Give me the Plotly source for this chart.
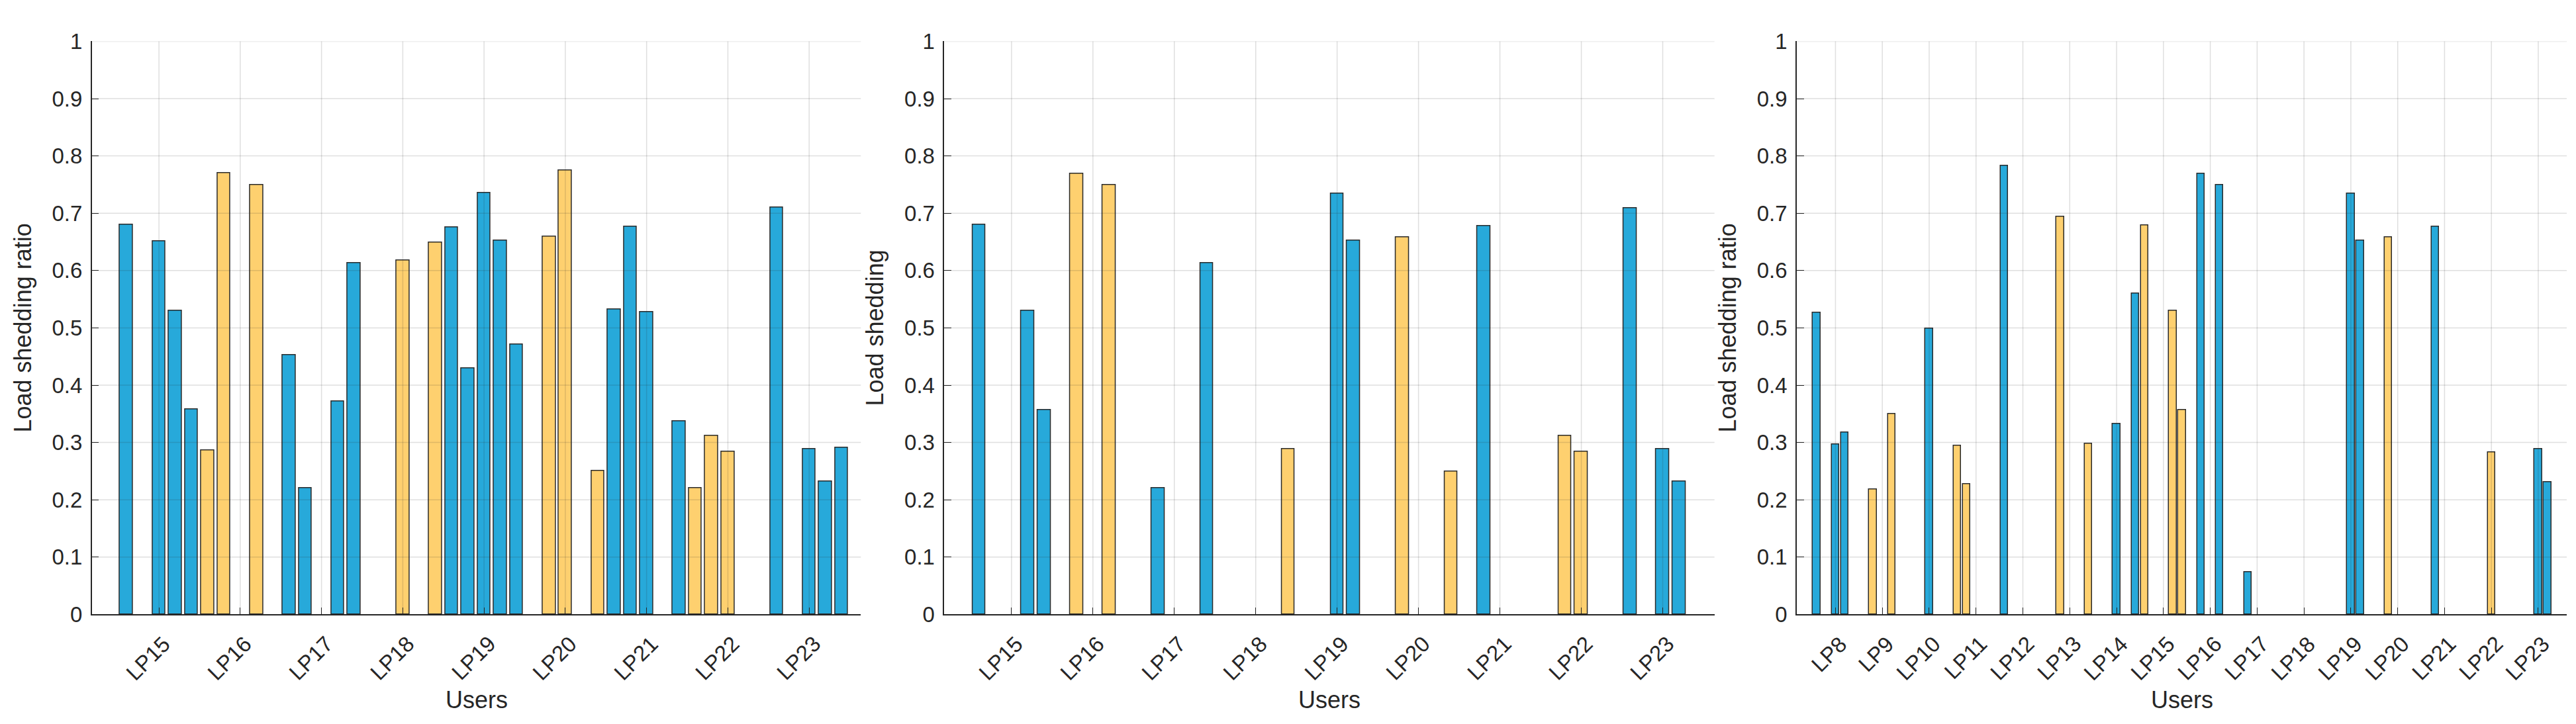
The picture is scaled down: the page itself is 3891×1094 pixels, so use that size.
import plotly.graph_objects as go

# ---------------- data ----------------
# Each user (LP) has five bar slots; 0 means no bar in that slot.
# Colour codes per bar: "b" = blue, "y" = yellow.
users_a = ["LP15", "LP16", "LP17", "LP18", "LP19", "LP20", "LP21", "LP22", "LP23"]

p1_values = [
    [0.680, 0, 0.651, 0.530, 0.358],
    [0.286, 0.770, 0, 0.750, 0],
    [0.453, 0.221, 0, 0.372, 0.613],
    [0, 0, 0.618, 0, 0.649],
    [0.676, 0.429, 0.735, 0.653, 0.471],
    [0, 0.659, 0.775, 0, 0.250],
    [0.532, 0.677, 0.528, 0, 0.337],
    [0.221, 0.312, 0.284, 0, 0],
    [0.710, 0, 0.289, 0.232, 0.291],
]
p1_kinds = [["b"] * 5, ["y"] * 5, ["b"] * 5, ["y"] * 5, ["b"] * 5,
            ["y"] * 5, ["b"] * 5, ["y"] * 5, ["b"] * 5]

p2_values = [
    [0.680, 0, 0, 0.530, 0.357],
    [0, 0.769, 0, 0.750, 0],
    [0, 0.220, 0, 0, 0.613],
    [0, 0, 0, 0, 0.289],
    [0, 0, 0.734, 0.652, 0],
    [0, 0.658, 0, 0, 0.249],
    [0, 0.678, 0, 0, 0],
    [0, 0.312, 0.284, 0, 0],
    [0.709, 0, 0.289, 0.232, 0],
]
p2_kinds = p1_kinds

users_c = ["LP8", "LP9", "LP10", "LP11", "LP12", "LP13", "LP14", "LP15",
           "LP16", "LP17", "LP18", "LP19", "LP20", "LP21", "LP22", "LP23"]

p3_values = [
    [0.526, 0, 0.297, 0.318, 0],
    [0, 0.218, 0, 0.350, 0],
    [0, 0, 0.499, 0, 0],
    [0.294, 0.227, 0, 0, 0],
    [0.783, 0, 0, 0, 0],
    [0, 0.694, 0, 0, 0.298],
    [0, 0, 0.332, 0, 0.560],
    [0.679, 0, 0, 0.530, 0.357],
    [0, 0.769, 0, 0.750, 0],
    [0, 0.074, 0, 0, 0],
    [0, 0, 0, 0, 0],
    [0, 0, 0.734, 0.652, 0],
    [0, 0.658, 0, 0, 0],
    [0, 0.677, 0, 0, 0],
    [0, 0, 0.283, 0, 0],
    [0, 0, 0.289, 0.231, 0],
]
p3_kinds = [
    ["b"] * 5, ["y"] * 5, ["b"] * 5, ["y"] * 5,
    ["b"] * 5, ["y"] * 5, ["b"] * 5, ["y"] * 5,
    ["b"] * 5, ["b"] * 5, ["b"] * 5, ["b"] * 5,
    ["y"] * 5, ["b"] * 5, ["y"] * 5, ["b"] * 5,
]

y_ticks = [0, 0.1, 0.2, 0.3, 0.4, 0.5, 0.6, 0.7, 0.8, 0.9, 1]
y_titles = ["Load shedding ratio", "Load shedding", "Load shedding ratio"]
x_title = "Users"

# ---------------- style ----------------
COLORS = {"b": "#27A9DA", "y": "#FED06F"}
EDGE = "#2a2a2a"
TXT = "#262626"
GRID = "rgba(38,38,38,0.15)"
FONT = "Liberation Sans, Arial, sans-serif"
SLOTS = 5

W, H = 3891, 1094
x_domains = [(130.7 / W, 1292.3 / W), (1418.3 / W, 2581.7 / W), (2706 / W, 3869 / W)]
y_domain = ((H - 934) / H, (H - 37.7) / H)

panels = [
    (users_a, p1_values, p1_kinds),
    (users_a, p2_values, p2_kinds),
    (users_c, p3_values, p3_kinds),
]

fig = go.Figure()
shapes = []
annotations = []
for k, (users, vals, kinds) in enumerate(panels):
    xs, ys, cs = [], [], []
    for gi, (gv, gk) in enumerate(zip(vals, kinds)):
        for j, (v, c) in enumerate(zip(gv, gk)):
            if v == 0:
                continue  # empty slot: nothing drawn
            xs.append(gi * SLOTS + j - SLOTS // 2)
            ys.append(v)
            cs.append(COLORS[c])
    sfx = "" if k == 0 else str(k + 1)
    fig.add_trace(go.Bar(
        x=xs, y=ys, width=0.8,
        marker=dict(color=cs, line=dict(color=EDGE, width=1.5)),
        xaxis="x" + sfx, yaxis="y" + sfx, showlegend=False,
    ))
    tickvals = [gi * SLOTS for gi in range(len(users))]
    n = len(users) * SLOTS
    xr = [-SLOTS // 2 - 1.13, n - SLOTS // 2 - 1 + (1.18 if k < 2 else 1.04)]
    axis_common = dict(
        showline=True, linecolor=TXT, linewidth=1.5,
        ticks="inside", ticklen=11, tickwidth=1.3, tickcolor=TXT,
        tickfont=dict(family=FONT, size=33, color=TXT),
        showgrid=False, zeroline=False, layer="above traces",
        title_font=dict(family=FONT, size=36, color=TXT),
    )
    fig.update_layout(**{
        "xaxis" + sfx: dict(
            domain=x_domains[k], anchor="y" + sfx, range=xr,
            tickmode="array", tickvals=tickvals, ticktext=users,
            showticklabels=False,
            **axis_common,
        ),
        "yaxis" + sfx: dict(
            domain=y_domain, anchor="x" + sfx, range=[0, 1],
            tickmode="array", tickvals=y_ticks, ticktext=[f"{t:g}" for t in y_ticks],
            title_text=y_titles[k], title_standoff=20, ticklabelstandoff=6,
            **axis_common,
        ),
    })
    xref = "x" + sfx
    yref = "y" + sfx
    # rotated category labels below the axis (45 degrees, ending at the tick)
    for t, lab in zip(tickvals, users):
        annotations.append(dict(
            text=lab, textangle=-45, showarrow=False,
            xref=xref, x=t, yref=yref + " domain", y=0,
            xanchor="right", yanchor="top", xshift=27, yshift=-23,
            font=dict(family=FONT, size=33, color=TXT),
        ))
    annotations.append(dict(
        text=x_title, showarrow=False,
        xref=xref + " domain", x=0.5, yref=yref + " domain", y=0,
        xanchor="center", yanchor="middle", yshift=-129,
        font=dict(family=FONT, size=36, color=TXT),
    ))
    # grid lines drawn over the bars (as in the original)
    for t in y_ticks[1:]:
        shapes.append(dict(type="line", xref=xref + " domain", yref=yref,
                           x0=0, x1=1, y0=t, y1=t,
                           line=dict(color=GRID, width=1.5), layer="above"))
    for t in tickvals:
        shapes.append(dict(type="line", xref=xref, yref=yref + " domain",
                           x0=t, x1=t, y0=0, y1=1,
                           line=dict(color=GRID, width=1.5), layer="above"))

fig.update_layout(
    width=W, height=H,
    margin=dict(l=0, r=0, t=0, b=0),
    paper_bgcolor="white", plot_bgcolor="white",
    shapes=shapes, annotations=annotations, bargap=0,
)

fig.write_html("out.html")
